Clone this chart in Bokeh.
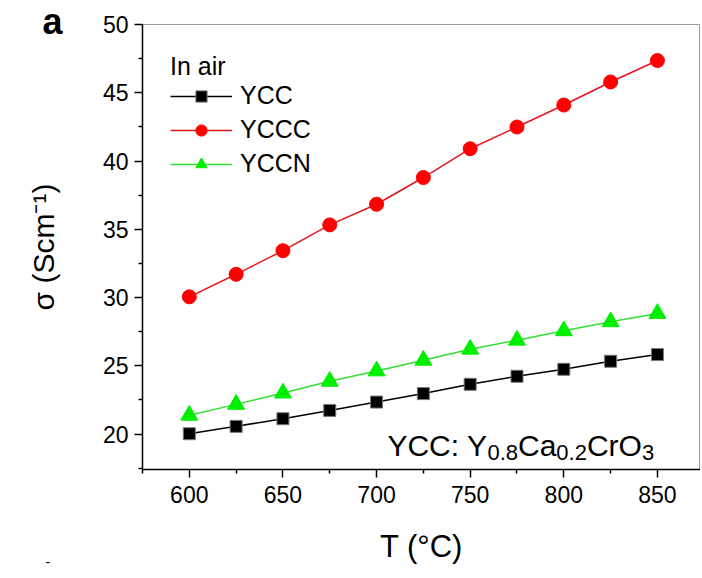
from bokeh.plotting import figure
from bokeh.models import Legend, LegendItem, Label, Range1d, FixedTicker, Title
from bokeh.embed import file_html
from bokeh.resources import INLINE

# ---- data ----
temperature = [600, 625, 650, 675, 700, 725, 750, 775, 800, 825, 850]
ycc = [20.02, 20.56, 21.12, 21.73, 22.34, 22.96, 23.64, 24.23, 24.74, 25.33, 25.82]
yccc = [30.05, 31.70, 33.43, 35.32, 36.83, 38.79, 40.90, 42.49, 44.10, 45.79, 47.36]
yccn = [21.37, 22.17, 23.00, 23.86, 24.62, 25.40, 26.21, 26.87, 27.56, 28.22, 28.83]

x_major = [600, 650, 700, 750, 800, 850]
x_minor = [575, 625, 675, 725, 775, 825, 875]
y_major = [20, 25, 30, 35, 40, 45, 50]
y_minor = [17.5, 22.5, 27.5, 32.5, 37.5, 42.5, 47.5]

FONT = "Liberation Sans, Arial, sans-serif"

p = figure(width=700, height=576, output_backend="svg", toolbar_location=None,
           x_range=Range1d(575, 873), y_range=Range1d(17.4, 50),
           min_border_left=142, min_border_right=0, min_border_top=24,
           min_border_bottom=107)
p.xgrid.visible = False
p.ygrid.visible = False
p.outline_line_color = "#9a9a9a"
p.outline_line_width = 1
p.background_fill_color = "white"
p.border_fill_color = "white"

for ax in (p.xaxis[0], p.yaxis[0]):
    ax.axis_line_color = "black"
    ax.axis_line_width = 1.5
    ax.major_tick_line_color = "black"
    ax.minor_tick_line_color = "black"
    ax.major_tick_line_width = 1.5
    ax.minor_tick_line_width = 1.5
    ax.major_tick_in = 0
    ax.minor_tick_in = 0
    ax.major_label_text_font = FONT
    ax.major_label_text_font_size = "23px"
    ax.major_label_text_color = "black"
    ax.axis_label_text_font = FONT
    ax.axis_label_text_font_style = "normal"
    ax.axis_label_text_color = "black"

p.xaxis.ticker = FixedTicker(ticks=x_major, minor_ticks=x_minor)
p.yaxis.ticker = FixedTicker(ticks=y_major, minor_ticks=y_minor)
p.xaxis.major_tick_out = 8
p.xaxis.minor_tick_out = 4
p.yaxis.major_tick_out = 8
p.yaxis.minor_tick_out = 4
p.xaxis.major_label_standoff = 8
p.yaxis.major_label_standoff = 6

p.xaxis.axis_label = "T (\u00b0C)"
p.xaxis.axis_label_text_font_size = "31px"
p.xaxis.axis_label_standoff = 23
p.yaxis.axis_label = "\u03c3 (Scm\u207b\u00b9)"
p.yaxis.axis_label_text_font_size = "30px"
p.yaxis.axis_label_standoff = 40

# panel letter as a title pulled to the left of the frame
p.title = Title(text="a", align="left", offset=-100, vertical_align="bottom",
                standoff=-34, text_font=FONT, text_font_size="36px",
                text_font_style="bold", text_color="black")
# stray dash at the bottom-left of the reference
p.add_layout(Title(text="-", align="left", offset=-97, vertical_align="top",
                   standoff=-19, text_font=FONT, text_font_size="14px",
                   text_font_style="normal", text_color="black"), "below")

# ---- series ----
l1 = p.line(temperature, ycc, line_color="black", line_width=1.5)
s1 = p.scatter(temperature, ycc, marker="square", size=12, fill_color="black",
               line_color="#777777", line_width=1)
l2 = p.line(temperature, yccc, line_color="#e8141c", line_width=1.5)
s2 = p.scatter(temperature, yccc, marker="circle", size=14, fill_color="#ff0000",
               line_color="#ff0000")
l3 = p.line(temperature, yccn, line_color="#33dd33", line_width=1.5)
s3 = p.scatter(temperature, yccn, marker="triangle", size=17, fill_color="#00ee00",
               line_color="#00ee00")

legend = Legend(items=[LegendItem(label="YCC", renderers=[l1, s1]),
                       LegendItem(label="YCCC", renderers=[l2, s2]),
                       LegendItem(label="YCCN", renderers=[l3, s3])],
                title="In air", location="top_left")
legend.title_text_font = FONT
legend.title_text_font_size = "25px"
legend.title_text_font_style = "normal"
legend.title_text_color = "black"
legend.label_text_font = FONT
legend.label_text_font_size = "25px"
legend.label_text_color = "black"
legend.glyph_width = 62
legend.glyph_height = 28
legend.label_height = 28
legend.spacing = 5
legend.padding = 12
legend.margin = 28
legend.label_standoff = 8
legend.title_standoff = 0
legend.border_line_color = None
legend.background_fill_alpha = 0
p.add_layout(legend)

# ---- annotation YCC: Y0.8Ca0.2CrO3 ----
parts = [("YCC: Y", 30, 0), ("0.8", 22, -7), ("Ca", 30, 0), ("0.2", 22, -7),
         ("CrO", 30, 0), ("3", 22, -7)]
widths = {"Y": 667, "C": 722, ":": 278, " ": 278, "a": 556, "r": 333, "O": 778,
          "0": 556, "2": 556, "3": 556, "8": 556, ".": 278}
xoff = 0.0
for txt, fs, dy in parts:
    p.add_layout(Label(x=705.8, y=19.16, x_offset=xoff, y_offset=dy, text=txt,
                       text_font=FONT, text_font_size=f"{fs}px",
                       text_baseline="alphabetic", text_align="left",
                       text_color="black"))
    xoff += sum(widths[c] for c in txt) * fs / 1000.0

open("out.html", "w").write(file_html(p, INLINE))
